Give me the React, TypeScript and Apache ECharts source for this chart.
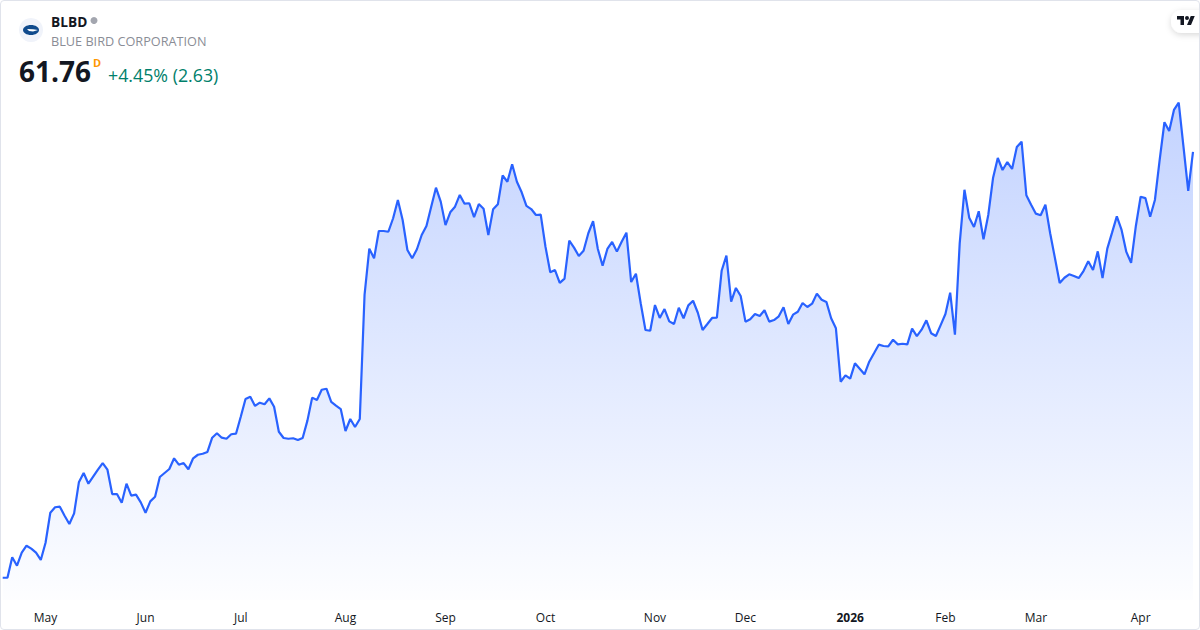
import React, { useEffect, useRef } from "react";
import * as echarts from "echarts";

const prices = [
  33.06, 33.06, 34.44, 33.87, 34.75, 35.22, 35.02, 34.75, 34.26, 35.42,
  37.44, 37.81, 37.85, 37.24, 36.68, 37.40, 39.49, 40.12, 39.40, 39.87,
  40.34, 40.79, 40.34, 38.70, 38.70, 38.12, 39.40, 38.59, 38.66, 38.14,
  37.44, 38.21, 38.52, 39.85, 40.12, 40.39, 41.11, 40.68, 40.79, 40.37,
  41.11, 41.35, 41.42, 41.54, 42.50, 42.80, 42.50, 42.43, 42.73, 42.77,
  43.91, 45.11, 45.26, 44.64, 44.86, 44.75, 45.15, 44.59, 42.90, 42.48,
  42.43, 42.46, 42.34, 42.48, 43.65, 45.20, 45.04, 45.73, 45.80, 44.91,
  44.66, 44.43, 42.95, 43.76, 43.22, 43.76, 52.12, 55.24, 54.59, 56.43,
  56.43, 56.38, 57.29, 58.52, 57.17, 55.15, 54.59, 55.20, 56.16, 56.77,
  58.07, 59.35, 58.41, 56.83, 57.69, 58.07, 58.86, 58.27, 58.30, 57.37,
  58.25, 57.93, 56.16, 57.89, 58.23, 60.18, 59.75, 60.93, 59.75, 59.04,
  58.12, 57.91, 57.51, 57.53, 55.37, 53.65, 53.80, 52.93, 53.22, 55.78,
  55.31, 54.75, 55.10, 56.28, 57.10, 55.22, 54.09, 55.22, 55.69, 55.04,
  55.71, 56.32, 52.99, 53.55, 51.56, 49.76, 49.71, 51.44, 50.57, 51.17,
  50.34, 50.16, 51.26, 50.55, 51.42, 51.73, 50.92, 49.76, 50.16, 50.57,
  50.59, 53.75, 54.77, 51.67, 52.59, 52.05, 50.32, 50.48, 50.84, 50.70,
  51.09, 50.32, 50.43, 50.68, 51.29, 50.16, 50.79, 50.99, 51.58, 51.31,
  51.53, 52.21, 51.80, 51.65, 50.55, 49.87, 46.27, 46.70, 46.48, 47.51,
  47.15, 46.77, 47.62, 48.19, 48.77, 48.68, 48.66, 49.10, 48.79, 48.83,
  48.79, 49.85, 49.35, 49.78, 50.41, 49.54, 49.35, 50.09, 50.84, 52.27,
  49.44, 55.60, 59.21, 57.33, 56.70, 57.76, 55.87, 57.51, 60.00, 61.35,
  60.54, 61.08, 60.61, 62.09, 62.45, 58.84, 58.20, 57.60, 57.49, 58.20,
  56.28, 54.61, 52.93, 53.28, 53.51, 53.40, 53.26, 53.73, 54.39, 53.80,
  55.06, 53.26, 55.24, 56.32, 57.42, 56.50, 55.02, 54.29, 56.77, 58.74,
  58.65, 57.39, 58.52, 61.22, 63.76, 63.17, 64.59, 65.08, 62.11, 59.13,
  61.76,
];

const tickLabels = ["May", "Jun", "Jul", "Aug", "Sep", "Oct", "Nov", "Dec", "2026", "Feb", "Mar", "Apr"];
const tickSessions = [9, 30, 50, 72, 93, 114, 137, 156, 178, 198, 217, 239];

const symbol = "BLBD";
const companyName = "BLUE BIRD CORPORATION";
const lastPrice = "61.76";
const interval = "D";
const change = "+4.45% (2.63)";

const FONT = "'Open Sans', sans-serif";
const INK = "#131722";

const categories = prices.map((_, i) => {
  const t = tickSessions.indexOf(i);
  return t >= 0 ? tickLabels[t] : String(i);
});

echarts.graphic.registerShape(
  "tvLogo",
  echarts.graphic.extendPath(
    "M14 22H7V11H0V4h14v18zM28 22h-8l7.5-18h8L28 22zM24 8a4 4 0 1 1-8 0a4 4 0 1 1 8 0z",
    {}
  ) as any
);

export default function App() {
  const ref = useRef<HTMLDivElement>(null);
  useEffect(() => {
    document.body.style.margin = "0";
    const chart = echarts.init(ref.current!, undefined, { renderer: "svg" });
    chart.setOption({
      animation: false,
      backgroundColor: "#ffffff",
      textStyle: { fontFamily: FONT },
      grid: { left: 2.7, right: 7, top: 0, height: 600, containLabel: false },
      xAxis: {
        type: "category",
        data: categories,
        boundaryGap: false,
        axisLine: { show: false },
        axisTick: { show: false },
        splitLine: { show: false },
        axisLabel: {
          interval: (i: number) => tickSessions.includes(i),
          margin: 11,
          fontFamily: FONT,
          fontSize: 12,
          color: INK,
          formatter: (v: string) => (v === "2026" ? "{y|2026}" : v),
          rich: { y: { fontFamily: FONT, fontSize: 12, fontWeight: "bold", color: INK } },
        },
      },
      yAxis: {
        type: "value",
        min: 31.56,
        max: 72,
        show: false,
      },
      series: [
        {
          type: "line",
          data: prices,
          symbol: "none",
          smooth: false,
          lineStyle: { color: "#2962ff", width: 2.2 },
          areaStyle: {
            opacity: 1,
            color: new echarts.graphic.LinearGradient(0, 0, 0, 1, [
              { offset: 0, color: "rgba(41,98,255,0.28)" },
              { offset: 1, color: "rgba(41,98,255,0.01)" },
            ]),
          },
        },
      ],
      graphic: [
        { type: "circle", shape: { cx: 31, cy: 30, r: 12 }, style: { fill: "#f0f3fa" } },
        { type: "ellipse", shape: { cx: 31, cy: 30, rx: 8, ry: 5 }, style: { fill: "#0f4a8c" } },
        { type: "polygon", shape: { points: [[27, 29], [33, 29.2], [38, 30], [33, 31.5], [29, 31]] }, style: { fill: "#ffffff" } },
        { type: "text", x: 51, y: 21, style: { text: symbol, font: `bold 13.7px ${FONT}`, fill: INK, verticalAlign: "middle" } },
        { type: "circle", shape: { cx: 94, cy: 20.5, r: 3.5 }, style: { fill: "#a3a6af" } },
        { type: "text", x: 51, y: 40.5, style: { text: companyName, font: `12.7px ${FONT}`, fill: "#8a8d96", verticalAlign: "middle" } },
        { type: "text", x: 19, y: 71, style: { text: lastPrice, font: `bold 28px ${FONT}`, fill: INK, verticalAlign: "middle" } },
        { type: "text", x: 93, y: 62, style: { text: interval, font: `bold 11px ${FONT}`, fill: "#ff9800", verticalAlign: "middle" } },
        { type: "text", x: 108, y: 74.5, style: { text: change, font: `17.8px ${FONT}`, fill: "#00806b", verticalAlign: "middle" } },
        {
          type: "rect",
          shape: { x: 1171, y: 10, width: 50, height: 23, r: 11 },
          style: { fill: "#ffffff", shadowBlur: 6, shadowOffsetY: 2, shadowColor: "rgba(0,0,0,0.15)" },
        },
        { type: "tvLogo", x: 1177, y: 14, scaleX: 0.5, scaleY: 0.5, style: { fill: INK } },
      ],
    });
    return () => chart.dispose();
  }, []);
  return (
    <div style={{ position: "relative", width: 1200, height: 630, overflow: "hidden" }}>
      <div ref={ref} style={{ width: 1200, height: 630 }} />
      <div
        style={{
          position: "absolute",
          inset: 0,
          boxSizing: "border-box",
          border: "1px solid #e0e3eb",
          borderRadius: 4,
          pointerEvents: "none",
        }}
      />
    </div>
  );
}
